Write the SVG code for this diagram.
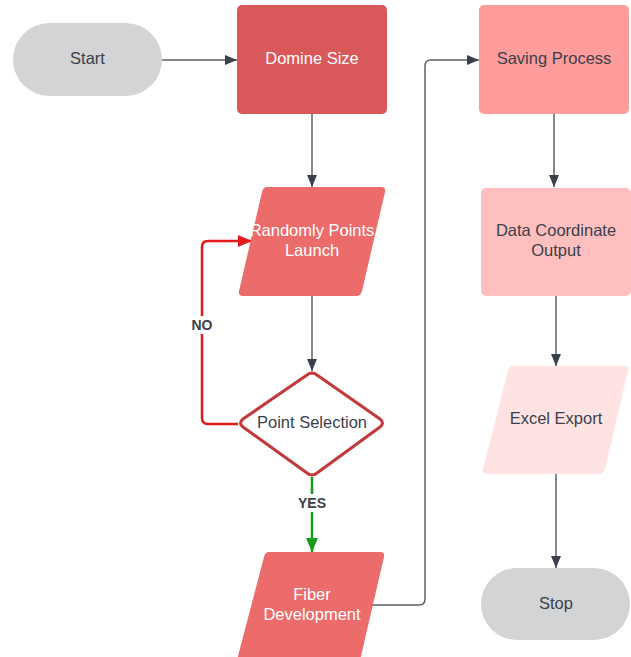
<svg xmlns="http://www.w3.org/2000/svg" width="631" height="657" viewBox="0 0 631 657">
<style>
.t{font-family:"Liberation Sans",Arial,sans-serif;font-size:16.5px;text-anchor:middle}
.d{fill:#3a414a}
.w{fill:#ffffff}
.lb{font-family:"Liberation Sans",Arial,sans-serif;font-size:14px;font-weight:bold;text-anchor:middle;fill:#3a414a}
.c{fill:none;stroke:#5b5f66;stroke-width:1.5}
</style>
<defs>
<marker id="ag" markerWidth="12" markerHeight="10" refX="12" refY="5" orient="auto" markerUnits="userSpaceOnUse"><path d="M0,0 L12,5 L0,10 Z" fill="#3a414a"/></marker>
<marker id="ar" markerWidth="14" markerHeight="12" refX="14" refY="6" orient="auto" markerUnits="userSpaceOnUse"><path d="M0,0 L14,6 L0,12 Z" fill="#e31a1c"/></marker>
<marker id="agr" markerWidth="14" markerHeight="12" refX="14" refY="6" orient="auto" markerUnits="userSpaceOnUse"><path d="M0,0 L14,6 L0,12 Z" fill="#1a9a1a"/></marker>
</defs>
<g id="connectors">
<path class="c" d="M162,60 L237,60" marker-end="url(#ag)"/>
<path class="c" d="M312,114 L312,187" marker-end="url(#ag)"/>
<path class="c" d="M312,296 L312,371" marker-end="url(#ag)"/>
<path d="M238,424 L208,424 Q202,424 202,418 L202,247 Q202,241 208,241 L252,241" fill="none" stroke="#e31a1c" stroke-width="2.5" marker-end="url(#ar)"/>
<path d="M312,477 L312,552" fill="none" stroke="#1a9a1a" stroke-width="2.5" marker-end="url(#agr)"/>
<path class="c" d="M372,605 L419,605 Q425,605 425,599 L425,66 Q425,60 431,60 L479,60" marker-end="url(#ag)"/>
<path class="c" d="M554,114 L554,187" marker-end="url(#ag)"/>
<path class="c" d="M556,296 L556,366" marker-end="url(#ag)"/>
<path class="c" d="M556,474 L556,568" marker-end="url(#ag)"/>
<rect x="188" y="316" width="28" height="18" fill="#fff"/>
<text class="lb" x="202" y="330">NO</text>
<rect x="294" y="494" width="36" height="18" fill="#fff"/>
<text class="lb" x="312" y="508">YES</text>
</g>
<g id="start">
<rect x="13" y="23" width="149" height="73" rx="36.5" fill="#d3d4d6"/>
<text class="t d" x="87.5" y="64">Start</text>
</g>
<g id="domine">
<rect x="237" y="5" width="150" height="109" rx="5" fill="#d9585a"/>
<text class="t w" x="312" y="64">Domine Size</text>
</g>
<g id="randomly">
<path d="M267,187 L381,187 Q386,187 385,192 L362,291 Q361,296 356,296 L243,296 Q238,296 239,291 L262,192 Q263,187 267,187 Z" fill="#ec6b6b"/>
<text class="t w" x="312" y="236">Randomly Points</text>
<text class="t w" x="312" y="256">Launch</text>
</g>
<g id="point">
<path d="M307,375 Q312,371 317,375 L380,419 Q385,423 380,427 L317,473 Q312,477 307,473 L243,427 Q238,423 243,419 Z" fill="#fff" stroke="#c0393b" stroke-width="3"/>
<text class="t d" x="312" y="428">Point Selection</text>
</g>
<g id="fiber">
<path d="M269,552 L380,552 Q385,552 384,557 L361,656 Q360,661 355,661 L242,661 Q237,661 238,656 L264,557 Q265,552 269,552 Z" fill="#ec6b6b"/>
<text class="t w" x="312" y="600">Fiber</text>
<text class="t w" x="312" y="620">Development</text>
</g>
<g id="saving">
<rect x="479" y="5" width="150" height="109" rx="5" fill="#ff9c9c"/>
<text class="t d" x="554" y="64">Saving Process</text>
</g>
<g id="data">
<rect x="481" y="188" width="150" height="108" rx="5" fill="#ffbfbf"/>
<text class="t d" x="556" y="236">Data Coordinate</text>
<text class="t d" x="556" y="256">Output</text>
</g>
<g id="excel">
<path d="M514,366 L624,366 Q629,366 628,371 L605,469 Q604,474 599,474 L487,474 Q482,474 483,469 L508,371 Q509,366 514,366 Z" fill="#ffe3e3"/>
<text class="t d" x="556" y="424">Excel Export</text>
</g>
<g id="stop">
<rect x="481" y="568" width="149" height="72" rx="36" fill="#d3d4d6"/>
<text class="t d" x="556" y="609">Stop</text>
</g>
</svg>
